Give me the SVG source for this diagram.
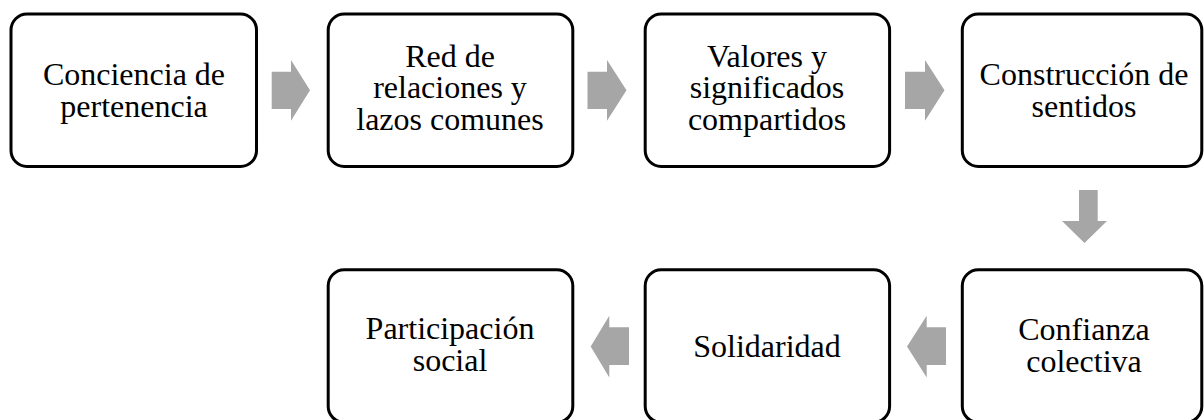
<svg xmlns="http://www.w3.org/2000/svg" width="1204" height="420" viewBox="0 0 1204 420">
  <style>
    .box { fill: #ffffff; stroke: #000000; stroke-width: 3; }
    .lbl { font-family: "Liberation Serif", "Times New Roman", serif; font-size: 32px; fill: #000000; text-anchor: middle; }
    .arr { fill: #a6a6a6; stroke: none; }
  </style>
  <rect x="0" y="0" width="1204" height="420" fill="#ffffff"/>

  <g id="connectors">
    <polygon class="arr" points="271.7,71.7 291,71.7 291,60 310,90.3 291,120.7 291,109 271.7,109"/>
    <polygon class="arr" points="587.5,71.7 607,71.7 607,60 626.5,90.3 607,120.7 607,109 587.5,109"/>
    <polygon class="arr" points="905,71.7 925,71.7 925,60 944.5,90.3 925,120.7 925,109 905,109"/>
    <polygon class="arr" points="1079,190 1097.7,190 1097.7,221 1107,221 1084.5,243 1062,221 1079,221"/>
    <polygon class="arr" points="946,327.3 926.7,327.3 926.7,315.7 907,346.5 926.7,377.5 926.7,365 946,365"/>
    <polygon class="arr" points="629,327.3 609.3,327.3 609.3,315.7 590.7,346.5 609.3,377.5 609.3,365 629,365"/>
  </g>

  <g id="node1">
    <rect class="box" x="11" y="14" width="245.5" height="152.5" rx="16" ry="16"/>
    <text class="lbl" x="134" y="85">Conciencia de</text>
    <text class="lbl" x="134" y="116.7">pertenencia</text>
  </g>
  <g id="node2">
    <rect class="box" x="328.2" y="14" width="244.6" height="152.5" rx="16" ry="16"/>
    <text class="lbl" x="450" y="66.7">Red de</text>
    <text class="lbl" x="450" y="98.3">relaciones y</text>
    <text class="lbl" x="450" y="130">lazos comunes</text>
  </g>
  <g id="node3">
    <rect class="box" x="645.2" y="14" width="244.4" height="152.5" rx="16" ry="16"/>
    <text class="lbl" x="767" y="66.7">Valores y</text>
    <text class="lbl" x="767" y="98.3">significados</text>
    <text class="lbl" x="767" y="130">compartidos</text>
  </g>
  <g id="node4">
    <rect class="box" x="962.3" y="14" width="239.5" height="152.5" rx="16" ry="16"/>
    <text class="lbl" x="1084" y="85">Construcción de</text>
    <text class="lbl" x="1084" y="116.7">sentidos</text>
  </g>
  <g id="node5">
    <rect class="box" x="962.3" y="269.8" width="239.5" height="152.5" rx="16" ry="16"/>
    <text class="lbl" x="1084" y="340">Confianza</text>
    <text class="lbl" x="1084" y="371.7">colectiva</text>
  </g>
  <g id="node6">
    <rect class="box" x="645.2" y="269.8" width="244.4" height="152.5" rx="16" ry="16"/>
    <text class="lbl" x="767" y="356.7">Solidaridad</text>
  </g>
  <g id="node7">
    <rect class="box" x="328.2" y="269.8" width="244.6" height="152.5" rx="16" ry="16"/>
    <text class="lbl" x="450" y="339">Participación</text>
    <text class="lbl" x="450" y="370.7">social</text>
  </g>
</svg>
